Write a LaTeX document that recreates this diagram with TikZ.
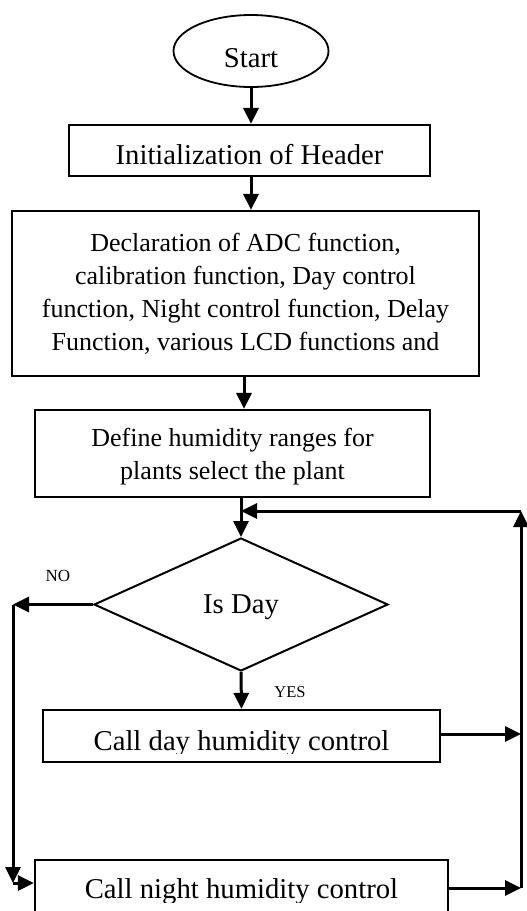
\documentclass[tikz,border=0pt]{standalone}
\usepackage{fontspec}
\setmainfont{Liberation Serif}
\usetikzlibrary{shapes.geometric,arrows.meta}

\begin{document}
\begin{tikzpicture}[x=1pt,y=-1pt,
        box/.style={draw,rectangle,line width=2.2pt,inner sep=0pt},
        arr/.style={line width=3pt,-{Triangle[length=16pt,width=15pt]}},
        big/.style={font=\fontsize{28.7}{34}\selectfont},
        small/.style={font=\fontsize{26}{33}\selectfont}]
        \clip (0,0) rectangle (527,911);
        % Start and Header
        \node[draw,ellipse,line width=1.8pt,minimum width=155pt,minimum height=72pt,inner sep=0pt,
              big,text height=32pt,text depth=0pt] (start) at (251,51) {Start};
        \node[box,big,minimum width=361pt,minimum height=51pt,text height=27pt,text depth=0pt] (init) at (249.5,150.5) {Initialization of Header};
        % Declarations
        \node[box,small,align=center,minimum width=467pt,minimum height=165pt] (decl) at (245.5,293.5)
            {Declaration of ADC function,\\ calibration function, Day control\\ function, Night control function, Delay\\ Function, various LCD functions and};
        \node[box,small,align=center,minimum width=395pt,minimum height=87pt,text height=58pt] (define) at (232.5,453.5)
            {Define humidity ranges for\\ plants select the plant};
        % Decision
        \node[draw,diamond,line width=2pt,minimum width=294pt,minimum height=133pt,inner sep=0pt,
              big,text height=17pt,text depth=0pt] (isday) at (241,604.5) {Is Day};
        \node[font=\fontsize{17}{20}\selectfont] (nolabel) at (58,576) {NO};
        \node[font=\fontsize{16.5}{20}\selectfont] (yeslabel) at (290,692) {YES};
        % Day and Night boxes
        \node[box,minimum width=397pt,minimum height=52pt] (day) at (241.5,736) {};
        \node[box,minimum width=413pt,minimum height=60pt] (night) at (241.5,890) {};
        \begin{scope}
            \clip (day.north west) rectangle ([yshift=-17.5pt]day.east);
            \node[big,anchor=base,inner sep=0pt] (daytext) at ([yshift=-14pt]day.center) {Call day humidity control};
        \end{scope}
        \begin{scope}
            \clip (night.north west) rectangle ([yshift=-12pt]night.east);
            \node[big,anchor=base,inner sep=0pt] (nighttext) at ([yshift=-8pt]night.center) {Call night humidity control};
        \end{scope}
        % Loop corners
        \coordinate (nocorner) at (13,883);
        \coordinate (rbot) at (521,888);
        \coordinate (rtop) at (521,511);
        % Arrows
        \draw[arr] (start.south) -- (start.south |- init.north);
        \draw[arr] (start.south |- init.south) -- (start.south |- decl.north);
        \draw[arr] ([xshift=-1.5pt]decl.south) -- ([xshift=-1.5pt]decl.south |- define.north);
        \draw[arr] (isday.north |- define.south) -- (isday.north);
        \draw[arr] (isday.west) -- (isday.west -| nocorner);
        \draw[arr] (isday.west -| nocorner) -- (nocorner);
        \draw[arr] (nocorner) -- (nocorner -| night.west);
        \draw[arr] (isday.south) -- (day.north);
        \draw[arr] ([yshift=2pt]day.east) -- ([yshift=2pt]day.east -| rbot);
        \draw[arr] (night.east |- rbot) -- (rbot);
        \draw[arr] (rbot) -- (rtop);
        \draw[arr] (rtop) -- (rtop -| isday.north);
    \end{tikzpicture}
\end{document}
